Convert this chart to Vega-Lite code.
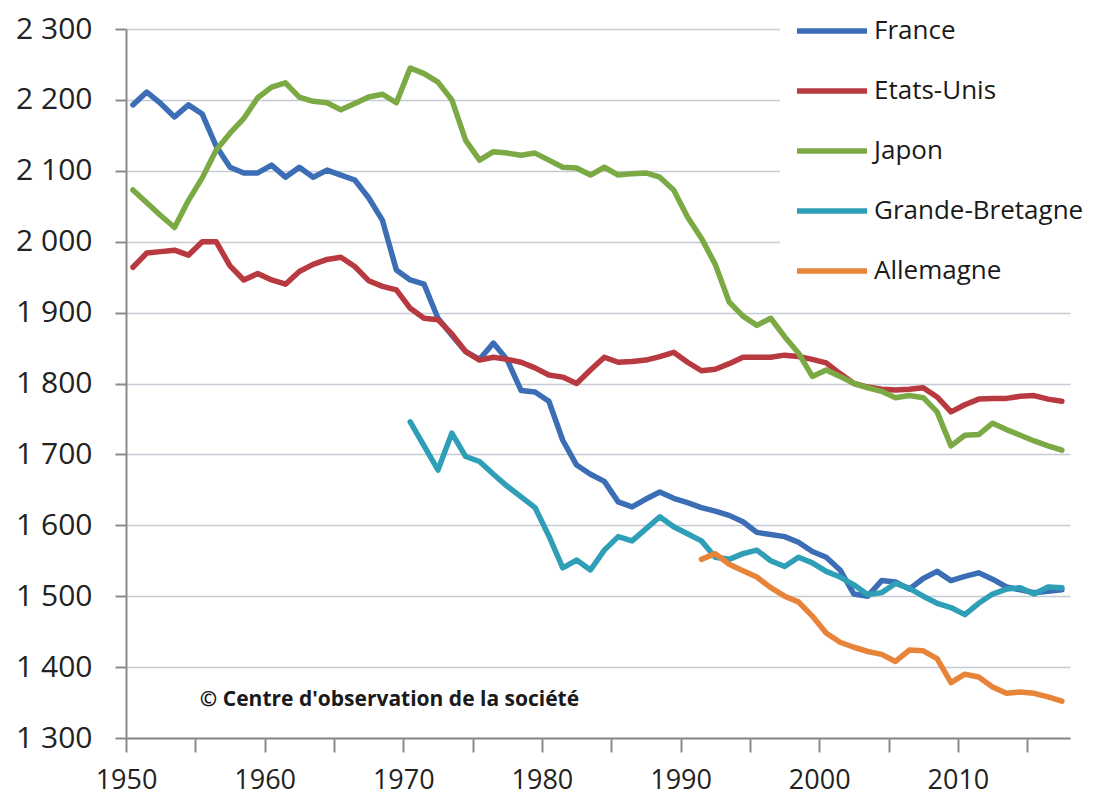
{
  "$schema": "https://vega.github.io/schema/vega-lite/v6.json",
  "width": 944,
  "height": 709,
  "autosize": {"type": "none"},
  "padding": {"left": 126, "top": 29, "right": 31, "bottom": 60},
  "background": "white",
  "config": {"view": {"stroke": null}},
  "layer": [
    {
      "data": {
        "values": [
          {"annee": "1950", "France": 2193, "Etats-Unis": 1964, "Japon": 2073},
          {"annee": "1951", "France": 2211, "Etats-Unis": 1984, "Japon": 2055},
          {"annee": "1952", "France": 2195, "Etats-Unis": 1986, "Japon": 2037},
          {"annee": "1953", "France": 2176, "Etats-Unis": 1988, "Japon": 2020},
          {"annee": "1954", "France": 2193, "Etats-Unis": 1981, "Japon": 2058},
          {"annee": "1955", "France": 2180, "Etats-Unis": 2000, "Japon": 2090},
          {"annee": "1956", "France": 2135, "Etats-Unis": 2000, "Japon": 2129},
          {"annee": "1957", "France": 2105, "Etats-Unis": 1966, "Japon": 2153},
          {"annee": "1958", "France": 2097, "Etats-Unis": 1946, "Japon": 2174},
          {"annee": "1959", "France": 2097, "Etats-Unis": 1955, "Japon": 2203},
          {"annee": "1960", "France": 2108, "Etats-Unis": 1946, "Japon": 2218},
          {"annee": "1961", "France": 2091, "Etats-Unis": 1940, "Japon": 2224},
          {"annee": "1962", "France": 2105, "Etats-Unis": 1958, "Japon": 2204},
          {"annee": "1963", "France": 2091, "Etats-Unis": 1968, "Japon": 2198},
          {"annee": "1964", "France": 2101, "Etats-Unis": 1975, "Japon": 2196},
          {"annee": "1965", "France": 2094, "Etats-Unis": 1978, "Japon": 2186},
          {"annee": "1966", "France": 2087, "Etats-Unis": 1965, "Japon": 2195},
          {"annee": "1967", "France": 2062, "Etats-Unis": 1945, "Japon": 2204},
          {"annee": "1968", "France": 2030, "Etats-Unis": 1937, "Japon": 2208},
          {"annee": "1969", "France": 1960, "Etats-Unis": 1932, "Japon": 2196},
          {"annee": "1970", "France": 1946, "Etats-Unis": 1906, "Japon": 2245, "Grande-Bretagne": 1746},
          {"annee": "1971", "France": 1940, "Etats-Unis": 1892, "Japon": 2237, "Grande-Bretagne": 1712},
          {"annee": "1972", "France": 1892, "Etats-Unis": 1890, "Japon": 2225, "Grande-Bretagne": 1678},
          {"annee": "1973", "France": 1868, "Etats-Unis": 1870, "Japon": 2200, "Grande-Bretagne": 1730},
          {"annee": "1974", "France": 1845, "Etats-Unis": 1845, "Japon": 2143, "Grande-Bretagne": 1697},
          {"annee": "1975", "France": 1834, "Etats-Unis": 1833, "Japon": 2115, "Grande-Bretagne": 1690},
          {"annee": "1976", "France": 1857, "Etats-Unis": 1837, "Japon": 2127, "Grande-Bretagne": 1672},
          {"annee": "1977", "France": 1833, "Etats-Unis": 1834, "Japon": 2125, "Grande-Bretagne": 1655},
          {"annee": "1978", "France": 1790, "Etats-Unis": 1830, "Japon": 2122, "Grande-Bretagne": 1640},
          {"annee": "1979", "France": 1788, "Etats-Unis": 1822, "Japon": 2125, "Grande-Bretagne": 1625},
          {"annee": "1980", "France": 1775, "Etats-Unis": 1812, "Japon": 2115, "Grande-Bretagne": 1585},
          {"annee": "1981", "France": 1720, "Etats-Unis": 1809, "Japon": 2105, "Grande-Bretagne": 1540},
          {"annee": "1982", "France": 1685, "Etats-Unis": 1800, "Japon": 2104, "Grande-Bretagne": 1551},
          {"annee": "1983", "France": 1672, "Etats-Unis": 1819, "Japon": 2094, "Grande-Bretagne": 1537},
          {"annee": "1984", "France": 1662, "Etats-Unis": 1837, "Japon": 2105, "Grande-Bretagne": 1565},
          {"annee": "1985", "France": 1633, "Etats-Unis": 1830, "Japon": 2094, "Grande-Bretagne": 1584},
          {"annee": "1986", "France": 1626, "Etats-Unis": 1831, "Japon": 2096, "Grande-Bretagne": 1578},
          {"annee": "1987", "France": 1637, "Etats-Unis": 1833, "Japon": 2097, "Grande-Bretagne": 1595},
          {"annee": "1988", "France": 1647, "Etats-Unis": 1838, "Japon": 2091, "Grande-Bretagne": 1612},
          {"annee": "1989", "France": 1638, "Etats-Unis": 1844, "Japon": 2073, "Grande-Bretagne": 1598},
          {"annee": "1990", "France": 1632, "Etats-Unis": 1830, "Japon": 2035, "Grande-Bretagne": 1588},
          {"annee": "1991", "France": 1625, "Etats-Unis": 1818, "Japon": 2005, "Grande-Bretagne": 1578, "Allemagne": 1552},
          {"annee": "1992", "France": 1620, "Etats-Unis": 1820, "Japon": 1968, "Grande-Bretagne": 1555, "Allemagne": 1560},
          {"annee": "1993", "France": 1614, "Etats-Unis": 1828, "Japon": 1915, "Grande-Bretagne": 1552, "Allemagne": 1545},
          {"annee": "1994", "France": 1605, "Etats-Unis": 1837, "Japon": 1895, "Grande-Bretagne": 1560, "Allemagne": 1536},
          {"annee": "1995", "France": 1590, "Etats-Unis": 1837, "Japon": 1882, "Grande-Bretagne": 1565, "Allemagne": 1527},
          {"annee": "1996", "France": 1587, "Etats-Unis": 1837, "Japon": 1892, "Grande-Bretagne": 1550, "Allemagne": 1512},
          {"annee": "1997", "France": 1584, "Etats-Unis": 1840, "Japon": 1866, "Grande-Bretagne": 1542, "Allemagne": 1500},
          {"annee": "1998", "France": 1576, "Etats-Unis": 1838, "Japon": 1843, "Grande-Bretagne": 1555, "Allemagne": 1492},
          {"annee": "1999", "France": 1563, "Etats-Unis": 1834, "Japon": 1810, "Grande-Bretagne": 1547, "Allemagne": 1472},
          {"annee": "2000", "France": 1555, "Etats-Unis": 1829, "Japon": 1819, "Grande-Bretagne": 1535, "Allemagne": 1448},
          {"annee": "2001", "France": 1537, "Etats-Unis": 1814, "Japon": 1810, "Grande-Bretagne": 1527, "Allemagne": 1435},
          {"annee": "2002", "France": 1503, "Etats-Unis": 1800, "Japon": 1800, "Grande-Bretagne": 1516, "Allemagne": 1428},
          {"annee": "2003", "France": 1500, "Etats-Unis": 1795, "Japon": 1794, "Grande-Bretagne": 1502, "Allemagne": 1422},
          {"annee": "2004", "France": 1522, "Etats-Unis": 1792, "Japon": 1789, "Grande-Bretagne": 1505, "Allemagne": 1418},
          {"annee": "2005", "France": 1520, "Etats-Unis": 1791, "Japon": 1780, "Grande-Bretagne": 1518, "Allemagne": 1408},
          {"annee": "2006", "France": 1510, "Etats-Unis": 1792, "Japon": 1783, "Grande-Bretagne": 1511, "Allemagne": 1424},
          {"annee": "2007", "France": 1525, "Etats-Unis": 1794, "Japon": 1780, "Grande-Bretagne": 1500, "Allemagne": 1423},
          {"annee": "2008", "France": 1535, "Etats-Unis": 1781, "Japon": 1760, "Grande-Bretagne": 1490, "Allemagne": 1412},
          {"annee": "2009", "France": 1522, "Etats-Unis": 1760, "Japon": 1712, "Grande-Bretagne": 1484, "Allemagne": 1378},
          {"annee": "2010", "France": 1528, "Etats-Unis": 1770, "Japon": 1727, "Grande-Bretagne": 1474, "Allemagne": 1390},
          {"annee": "2011", "France": 1533, "Etats-Unis": 1778, "Japon": 1728, "Grande-Bretagne": 1490, "Allemagne": 1386},
          {"annee": "2012", "France": 1524, "Etats-Unis": 1779, "Japon": 1744, "Grande-Bretagne": 1503, "Allemagne": 1372},
          {"annee": "2013", "France": 1513, "Etats-Unis": 1779, "Japon": 1735, "Grande-Bretagne": 1510, "Allemagne": 1363},
          {"annee": "2014", "France": 1509, "Etats-Unis": 1782, "Japon": 1727, "Grande-Bretagne": 1512, "Allemagne": 1365},
          {"annee": "2015", "France": 1505, "Etats-Unis": 1783, "Japon": 1719, "Grande-Bretagne": 1503, "Allemagne": 1363},
          {"annee": "2016", "France": 1507, "Etats-Unis": 1778, "Japon": 1712, "Grande-Bretagne": 1513, "Allemagne": 1358},
          {"annee": "2017", "France": 1509, "Etats-Unis": 1775, "Japon": 1706, "Grande-Bretagne": 1512, "Allemagne": 1352}
        ],
        "format": {"parse": {"annee": "utc:'%Y'"}}
      },
      "transform": [
        {"fold": ["France", "Etats-Unis", "Japon", "Grande-Bretagne", "Allemagne"], "as": ["pays", "heures"]},
        {"filter": "isValid(datum.heures)"}
      ],
      "mark": {"type": "line", "strokeWidth": 5.5, "strokeCap": "round", "strokeJoin": "round", "timeUnitBandPosition": 0.5},
      "encoding": {
        "x": {
          "field": "annee",
          "type": "temporal",
          "timeUnit": "utcyear",
          "bandPosition": 0.5,
          "scale": {
            "domain": [
              {"year": 1950, "month": 1, "date": 1, "utc": true},
              {"year": 2018, "month": 2, "date": 1, "utc": true}
            ]
          },
          "axis": {
            "title": null,
            "values": [
              {"year": 1950, "utc": true}, {"year": 1955, "utc": true},
              {"year": 1960, "utc": true}, {"year": 1965, "utc": true},
              {"year": 1970, "utc": true}, {"year": 1975, "utc": true},
              {"year": 1980, "utc": true}, {"year": 1985, "utc": true},
              {"year": 1990, "utc": true}, {"year": 1995, "utc": true},
              {"year": 2000, "utc": true}, {"year": 2005, "utc": true},
              {"year": 2010, "utc": true}, {"year": 2015, "utc": true}
            ],
            "labelExpr": "utcyear(datum.value) % 10 === 0 ? utcFormat(datum.value, '%Y') : ''",
            "grid": false,
            "domainColor": "#8a8a8a",
            "domainWidth": 2,
            "tickColor": "#8a8a8a",
            "tickWidth": 2,
            "tickSize": 14,
            "labelPadding": 15,
            "labelFont": "Open Sans",
            "labelFontSize": 27,
            "labelColor": "#222222",
            "labelOverlap": false,
            "labelFlush": false
          }
        },
        "y": {
          "field": "heures",
          "type": "quantitative",
          "scale": {"domain": [1300, 2300], "nice": false, "zero": false},
          "axis": {
            "title": null,
            "values": [1300, 1400, 1500, 1600, 1700, 1800, 1900, 2000, 2100, 2200, 2300],
            "labelExpr": "replace(format(datum.value, ','), ',', ' ')",
            "grid": true,
            "gridColor": "#c6cad4",
            "gridWidth": 1.5,
            "domainColor": "#8a8a8a",
            "domainWidth": 2,
            "tickColor": "#8a8a8a",
            "tickWidth": 2,
            "tickSize": 11,
            "labelPadding": 23,
            "labelFont": "Open Sans",
            "labelFontSize": 30,
            "labelColor": "#222222",
            "labelFlush": false,
            "labelOverlap": false
          }
        },
        "color": {
          "field": "pays",
          "type": "nominal",
          "scale": {
            "domain": ["France", "Etats-Unis", "Japon", "Grande-Bretagne", "Allemagne"],
            "range": ["#3b6eb5", "#b8393f", "#7baa45", "#2e9fb6", "#e8843a"]
          },
          "legend": {
            "orient": "none",
            "legendX": 654,
            "legendY": -50,
            "title": null,
            "padding": 14,
            "fillColor": "white",
            "symbolType": "stroke",
            "symbolSize": 4900,
            "symbolStrokeWidth": 5.5,
            "labelFont": "Open Sans",
            "labelFontSize": 26,
            "labelColor": "#1a1a1a",
            "labelOffset": 4,
            "labelLimit": 400,
            "rowPadding": 9
          }
        }
      }
    },
    {
      "data": {"values": [{"source": "© Centre d'observation de la société"}]},
      "mark": {"type": "text", "align": "left", "baseline": "middle", "font": "Open Sans", "fontWeight": "bold", "fontSize": 21, "color": "#1a1a1a"},
      "encoding": {
        "x": {"datum": {"year": 1955, "month": 5, "date": 1, "utc": true}, "type": "temporal"},
        "y": {"datum": 1354, "type": "quantitative"},
        "text": {"field": "source"}
      }
    }
  ]
}
